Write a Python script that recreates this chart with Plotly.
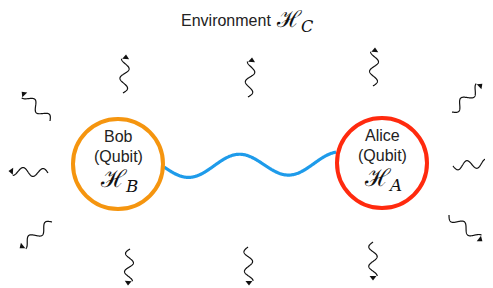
import numpy as np
import plotly.graph_objects as go

W, H = 493, 288
PAD = 8  # default page body margin

# Qubit nodes: label, subscript, center x, center y, radius, color
node_names = ["Bob", "Alice"]
node_subs = ["B", "A"]
node_x = [118, 382]
node_y = [164, 163]
node_r = [45, 45]
node_colors = ["#F5950F", "#FF2A0E"]

# Environment photon arrows: tail (x, y) -> tip (x, y)
tail_x = [123, 248, 373, 130, 248, 373, 50, 48, 52, 452, 453, 449]
tail_y = [93, 97, 86, 249, 247, 242, 121, 173, 222, 112, 166, 215]
tip_x = [126, 252, 375, 128, 249, 373, 22, 9, 20, 482, 490, 482]
tip_y = [55, 58, 48, 285, 285, 280, 92, 171, 248, 84, 163, 241]

# Entanglement link endpoints
link_x = [164, 336]
link_y = [167, 163]

fig = go.Figure()

# Blue wavy link
xs = np.linspace(link_x[0], link_x[1], 300)
base = np.linspace(link_y[0], link_y[1], 300)
ys = base + 11 * np.sin(2 * np.pi * (xs - link_x[0]) / 100.0)
fig.add_trace(go.Scatter(x=xs, y=ys, mode="lines",
                         line=dict(color="#1E9BEA", width=3.2, simplify=False),
                         hoverinfo="skip", showlegend=False))

# Wavy arrows
for x0, y0, x1, y1 in zip(tail_x, tail_y, tip_x, tip_y):
    dx, dy = x1 - x0, y1 - y0
    L = np.hypot(dx, dy)
    ux, uy = dx / L, dy / L
    px, py = -uy, ux
    t = np.linspace(0, 1, 160)
    s = t * (L - 4)
    off = 4.2 * np.sin(2 * np.pi * 1.75 * t)
    wx = x0 + ux * s + px * off
    wy = y0 + uy * s + py * off
    fig.add_trace(go.Scatter(x=wx, y=wy, mode="lines",
                             line=dict(color="#111111", width=1.2, simplify=False),
                             hoverinfo="skip", showlegend=False))
    ang = np.degrees(np.arctan2(dx, -dy))
    fig.add_trace(go.Scatter(x=[x1 - ux * 2.5], y=[y1 - uy * 2.5], mode="markers",
                             marker=dict(symbol="triangle-up", size=6, angle=ang,
                                         color="#111111", line=dict(width=0)),
                             hoverinfo="skip", showlegend=False))

shapes = []
annotations = []
txt_font = dict(family="Liberation Sans, Arial, sans-serif", size=16, color="#222222")
math_font = dict(family="DejaVu Serif, serif", size=24, color="#111111")
for name, sub, cx, cy, r, col in zip(node_names, node_subs, node_x, node_y, node_r, node_colors):
    shapes.append(dict(type="circle", xref="x", yref="y",
                       x0=cx - r, x1=cx + r, y0=cy - r, y1=cy + r,
                       line=dict(color=col, width=4), fillcolor="rgba(0,0,0,0)"))
    annotations.append(dict(x=cx, y=cy - 28, text=name, showarrow=False, font=txt_font))
    annotations.append(dict(x=cx, y=cy - 8, text="(Qubit)", showarrow=False, font=txt_font))
    annotations.append(dict(x=cx + 1, y=cy + 16,
                            text="ℋ<sub><i>" + sub + "</i></sub>",
                            showarrow=False, font=math_font))

annotations.append(dict(x=226, y=20, text="Environment", showarrow=False,
                        font=dict(family="Liberation Sans, Arial, sans-serif", size=16, color="#222222")))
annotations.append(dict(x=294, y=21, text="ℋ<sub><i>C</i></sub>", showarrow=False,
                        font=dict(family="DejaVu Serif, serif", size=23, color="#111111")))

fig.update_layout(
    width=W - PAD, height=H - PAD,
    margin=dict(l=0, r=0, t=0, b=0),
    paper_bgcolor="white", plot_bgcolor="white",
    xaxis=dict(range=[PAD, W], visible=False, fixedrange=True),
    yaxis=dict(range=[H, PAD], visible=False, fixedrange=True),
    shapes=shapes, annotations=annotations,
    showlegend=False,
)

fig.write_html("out.html")
